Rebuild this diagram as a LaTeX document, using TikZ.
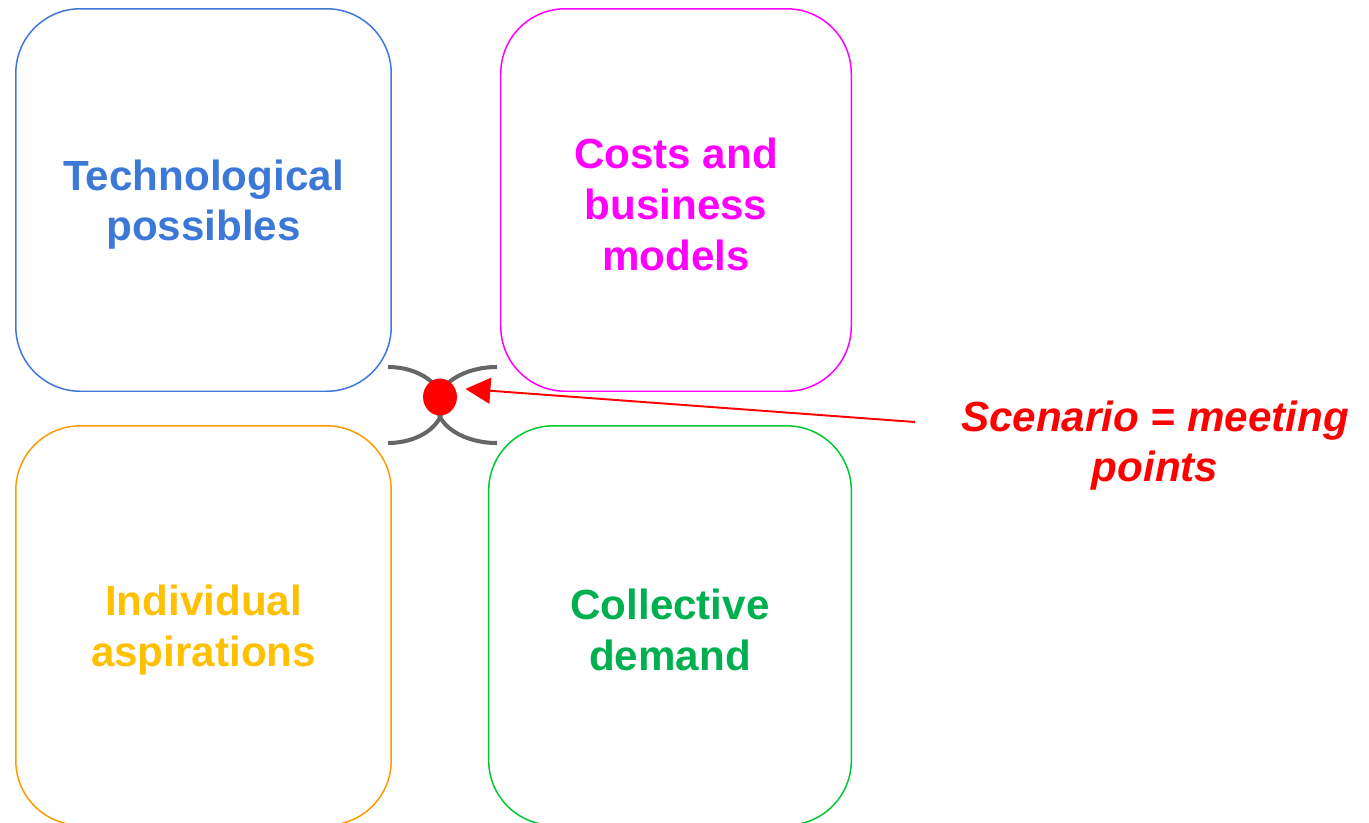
\documentclass[tikz,border=0pt]{standalone}
\usepackage{fontspec}
\setmainfont{Liberation Sans}
\usetikzlibrary{shapes.geometric,arrows.meta}
\definecolor{techblue}{HTML}{3C78D8}
\definecolor{costmag}{HTML}{FF00FF}
\definecolor{indline}{HTML}{FF9900}
\definecolor{indgold}{HTML}{FFC000}
\definecolor{colline}{HTML}{00C832}
\definecolor{colgreen}{HTML}{00B050}
\definecolor{arcgray}{HTML}{666666}
\begin{document}
\begin{tikzpicture}[x=0.02cm, y=-0.02cm,
    box/.style={draw, rounded corners=36.8pt, line width=0.85pt, inner sep=0pt},
    boxtext/.style={align=center, yshift=-2.6pt, font=\fontsize{24}{29}\selectfont\bfseries},
    meetarc/.style={arcgray, line width=2.3pt},
    redarrow/.style={red, line width=1.1pt, -{Triangle[length=14.2pt,width=14.7pt]}}]
\useasboundingbox (0,0) rectangle (1369,822);

\node[box, draw=techblue, minimum width=213.7pt, minimum height=217.7pt] (tech) at (203.5,200) {};
\node[box, draw=costmag, minimum width=199.5pt, minimum height=217.7pt] (cost) at (676,200) {};
\node[box, draw=indline, minimum width=213.7pt, minimum height=227.3pt] (indiv) at (203.5,625.5) {};
\node[box, draw=colline, minimum width=206.4pt, minimum height=227.3pt] (coll) at (670,625.5) {};

\node[boxtext, text=techblue] (techtext) at (tech) {Technological\\possibles};
\node[boxtext, text=costmag] (costtext) at (cost) {Costs and\\business\\models};
\node[boxtext, text=indgold] (indivtext) at (indiv) {Individual\\aspirations};
\node[boxtext, text=colgreen] (colltext) at (coll) {Collective\\demand};

\draw[meetarc] (388,367) arc[start angle=-90, end angle=90, x radius=55, y radius=38];
\draw[meetarc] (497,367) arc[start angle=-90, end angle=-270, x radius=60, y radius=38];
\node[ellipse, fill=red, inner sep=0pt, minimum width=19.3pt, minimum height=21pt] (meet) at (440,397) {};

\node[boxtext, text=red, font=\fontsize{24}{29}\selectfont\bfseries\itshape] (scen) at (1155,441) {Scenario = meeting\\points};
\coordinate (arrowfrom) at (915,422);
\draw[redarrow, shorten >=5.8pt] (arrowfrom) -- (meet.30);
\end{tikzpicture}
\end{document}
